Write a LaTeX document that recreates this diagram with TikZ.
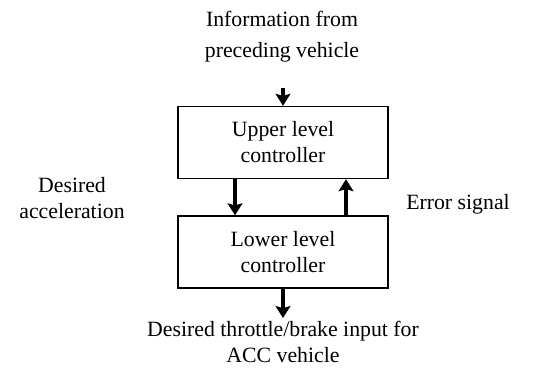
\documentclass[tikz,border=0pt]{standalone}
\usepackage{fontspec}
\setmainfont{Liberation Serif}
\usepackage{tikz}
\usetikzlibrary{arrows.meta, positioning}
\tikzstyle{arrow}     = [line width=2.2pt,-{Stealth[length=8.5pt,width=10.5pt,inset=1.5pt]}]
\tikzstyle{block}     = [rectangle, draw, line width=1pt, minimum width=5.25cm, minimum height=1.8cm, text centered]
\tikzset{every node/.style={align=center, font=\rmfamily\fontsize{15.5}{18.5}\selectfont}}

\begin{document}
\begin{tikzpicture}
    \useasboundingbox (0,0) rectangle (13.6,-9.225);
    % text above and the two controller boxes
    \node (info)   at (7.05,-0.92)   {Information from\\[4pt]preceding vehicle};
    \node (upper)  at (7.075,-3.5625)[block] {Upper level\\controller};
    \node (lower)  at (7.075,-6.3)   [block] {Lower level\\controller};
    % side labels and the output text
    \node (accel)  at (1.8,-4.95)    {Desired\\acceleration};
    \node (error)  at (11.45,-5.1)   {Error signal};
    \node (output) at (7.075,-8.55)  {Desired throttle/brake input for\\ACC vehicle};
    \coordinate (infoend) at (7.075,-2.2);
    \coordinate (outend)  at (7.075,-7.95);

    \draw [arrow] (infoend) -- (upper.north);
    \draw [arrow] (upper.south -| 5.875,0) -- (lower.north -| 5.875,0);
    \draw [arrow] (lower.north -| 8.65,0) -- (upper.south -| 8.65,0);
    \draw [arrow] (lower.south) -- (outend);
\end{tikzpicture}
\end{document}
